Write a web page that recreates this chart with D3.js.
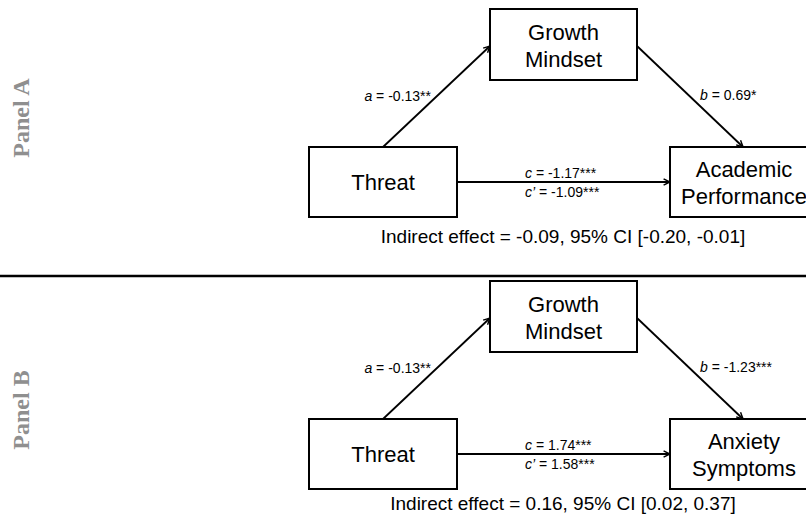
<!DOCTYPE html>
<html>
<head>
<meta charset="utf-8">
<script src="https://cdn.jsdelivr.net/npm/d3@7"></script>
<style>
  body { margin: 0; background: #fff; }
  text { font-family: "Liberation Sans", Arial, Helvetica, sans-serif; fill: #000; }
</style>
</head>
<body>
<svg id="svg" width="806" height="519"></svg>
<script>
// path estimates for each panel of the mediation model
const panels = ['Panel A', 'Panel B'];
const mediatorLines = ['Growth', 'Mindset'];
const predictorName = 'Threat';
const outcomeLines = [['Academic', 'Performance'], ['Anxiety', 'Symptoms']];
const aPaths = ['-0.13**', '-0.13**'];
const bPaths = ['0.69*', '-1.23***'];
const cPaths = ['-1.17***', '1.74***'];
const cPrimePaths = ['-1.09***', '1.58***'];
const indirectEffects = ['-0.09', '0.16'];
const ciLower = ['-0.20', '0.02'];
const ciUpper = ['-0.01', '0.37'];

let svg = d3.select('#svg');
let svgWidth = +svg.attr('width');

// each panel stacked vertically
let panelY = d3.scaleBand().domain(panels).range([0, 544]);

// layout of boxes inside one panel (local coords)
let boxes = {
    mediator: { x: 490, y: 9, w: 147, h: 71 },
    predictor: { x: 309, y: 147, w: 148, h: 70 },
    outcome: { x: 670, y: 147, w: 148, h: 70 }
};
let indirectY = [243, 238];
let labelY = [118, 138];

// arrowhead marker
svg.append('defs').append('marker')
    .attr('id', 'arrow')
    .attr('viewBox', '0 0 10 10')
    .attr('refX', 9)
    .attr('refY', 5)
    .attr('markerWidth', 8)
    .attr('markerHeight', 8)
    .attr('markerUnits', 'userSpaceOnUse')
    .attr('orient', 'auto')
    .append('path')
    .attr('d', 'M1,1 L9,5 L1,9')
    .attr('fill', 'none')
    .attr('stroke', '#000')
    .attr('stroke-width', 1.8);

// separator between panels
svg.append('line')
    .attr('x1', 0).attr('x2', svgWidth)
    .attr('y1', 276).attr('y2', 276)
    .attr('stroke', '#000')
    .attr('stroke-width', 2.5);

panels.forEach((panel, i) => {
    let g = svg.append('g')
        .attr('transform', 'translate(0,' + panelY(panel) + ')');

    // rotated panel label
    g.append('text')
        .attr('transform', 'translate(29,' + labelY[i] + ') rotate(-90)')
        .attr('text-anchor', 'middle')
        .style('font-family', '"Liberation Serif", "Times New Roman", serif')
        .style('font-weight', 'bold')
        .style('font-size', '24px')
        .style('fill', '#8f8f8f')
        .text(panel);

    // boxes
    let boxData = [
        { b: boxes.mediator, lines: mediatorLines },
        { b: boxes.predictor, lines: [predictorName] },
        { b: boxes.outcome, lines: outcomeLines[i] }
    ];
    boxData.forEach((d) => {
        g.append('rect')
            .attr('x', d.b.x).attr('y', d.b.y)
            .attr('width', d.b.w).attr('height', d.b.h)
            .attr('fill', '#fff')
            .attr('stroke', '#000')
            .attr('stroke-width', 2);
        let cx = d.b.x + d.b.w / 2;
        let cy = d.b.y + d.b.h / 2;
        let t = g.append('text')
            .attr('text-anchor', 'middle')
            .style('font-size', '22px');
        if (d.lines.length == 1) {
            t.append('tspan').attr('x', cx).attr('y', cy + 8).text(d.lines[0]);
        } else {
            t.append('tspan').attr('x', cx).attr('y', cy - 5).text(d.lines[0]);
            t.append('tspan').attr('x', cx).attr('y', cy + 22).text(d.lines[1]);
        }
    });

    let m = boxes.mediator, p = boxes.predictor, o = boxes.outcome;
    let arrows = [
        [p.x + 74, p.y, m.x, m.y + 37],
        [m.x + m.w, m.y + 37, o.x + 73, o.y],
        [p.x + p.w, p.y + 35, o.x, o.y + 35]
    ];
    arrows.forEach((a) => {
        g.append('line')
            .attr('x1', a[0]).attr('y1', a[1])
            .attr('x2', a[2]).attr('y2', a[3])
            .attr('stroke', '#000')
            .attr('stroke-width', 1.8)
            .attr('marker-end', 'url(#arrow)');
    });

    // path coefficient labels
    let pathLabel = (x, y, anchor, letter, value) => {
        let t = g.append('text')
            .attr('x', x).attr('y', y)
            .attr('text-anchor', anchor)
            .style('font-size', '14px');
        t.append('tspan').style('font-style', 'italic').text(letter);
        t.append('tspan').text(' = ' + value);
    };
    pathLabel(431, 101, 'end', 'a', aPaths[i]);
    pathLabel(700, 100, 'start', 'b', bPaths[i]);
    pathLabel(525, 178, 'start', 'c', cPaths[i]);
    pathLabel(525, 197, 'start', 'c\u2019', cPrimePaths[i]);

    g.append('text')
        .attr('x', 563)
        .attr('y', indirectY[i])
        .attr('text-anchor', 'middle')
        .style('font-size', '19px')
        .text('Indirect effect = ' + indirectEffects[i] + ', 95% CI [' + ciLower[i] + ', ' + ciUpper[i] + ']');
});
</script>
</body>
</html>
